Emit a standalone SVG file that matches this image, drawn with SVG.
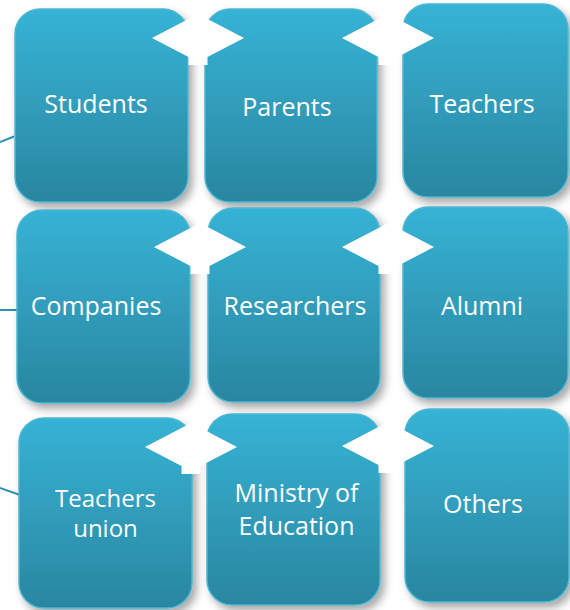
<svg xmlns="http://www.w3.org/2000/svg" width="570" height="610" viewBox="0 0 570 610">
<defs>
<linearGradient id="g" x1="0" y1="0" x2="0" y2="1">
<stop offset="0" stop-color="#36b3d5"/>
<stop offset="1" stop-color="#2a86a0"/>
</linearGradient>
<filter id="sh" x="-10%" y="-10%" width="125%" height="125%">
<feDropShadow dx="4" dy="5" stdDeviation="4" flood-color="#000" flood-opacity="0.35"/>
</filter>
<polygon id="arr" points="-46,0 0,-24 46,0 9.5,19 9.5,27 -9.5,27 -9.5,19"/>
</defs>
<style>
.box{fill:url(#g);stroke:#4cb6d2;stroke-width:1.5;filter:url(#sh)}
.t{font-family:"Open Sans","Liberation Sans",sans-serif;font-size:25px;fill:#fff;text-anchor:middle}
.s{font-size:24px}
.ln{stroke:#2f93ad;stroke-width:2;fill:none}
.ar{fill:#fff}
</style>
<rect width="570" height="610" fill="#fff"/>
<g id="connectors">
<line class="ln" x1="0" y1="142" x2="14" y2="136.5"/>
<line class="ln" x1="0" y1="310" x2="18" y2="310"/>
<line class="ln" x1="0" y1="488" x2="20" y2="495"/>
</g>
<g id="n-students"><rect class="box" x="15" y="9" width="173" height="193" rx="25"/><text class="t" x="96" y="113">Students</text></g>
<g id="n-parents"><rect class="box" x="205" y="9" width="172" height="193" rx="25"/><text class="t" x="287" y="116">Parents</text></g>
<g id="n-teachers"><rect class="box" x="403" y="4" width="165" height="193" rx="25"/><text class="t" x="482" y="113">Teachers</text></g>
<g id="n-companies"><rect class="box" x="17" y="210" width="173" height="193" rx="25"/><text class="t" x="96" y="315">Companies</text></g>
<g id="n-researchers"><rect class="box" x="208" y="208" width="172" height="194" rx="25"/><text class="t" x="295" y="315">Researchers</text></g>
<g id="n-alumni"><rect class="box" x="403" y="207" width="165" height="191" rx="25"/><text class="t" x="482" y="315">Alumni</text></g>
<g id="n-union"><rect class="box" x="19" y="418" width="173" height="190" rx="25"/><text class="t s" x="105.5" y="507">Teachers</text><text class="t s" x="105.5" y="537">union</text></g>
<g id="n-ministry"><rect class="box" x="207" y="414" width="173" height="191" rx="25"/><text class="t" x="296.5" y="502">Ministry of</text><text class="t" x="296.5" y="535">Education</text></g>
<g id="n-others"><rect class="box" x="405" y="409" width="164" height="193" rx="25"/><text class="t" x="483" y="513">Others</text></g>
<g id="arrows">
<use href="#arr" class="ar" x="198" y="38"/>
<use href="#arr" class="ar" x="388" y="38"/>
<use href="#arr" class="ar" x="200" y="247"/>
<use href="#arr" class="ar" x="388" y="247"/>
<use href="#arr" class="ar" x="191" y="447"/>
<use href="#arr" class="ar" x="388" y="446"/>
</g>
</svg>
